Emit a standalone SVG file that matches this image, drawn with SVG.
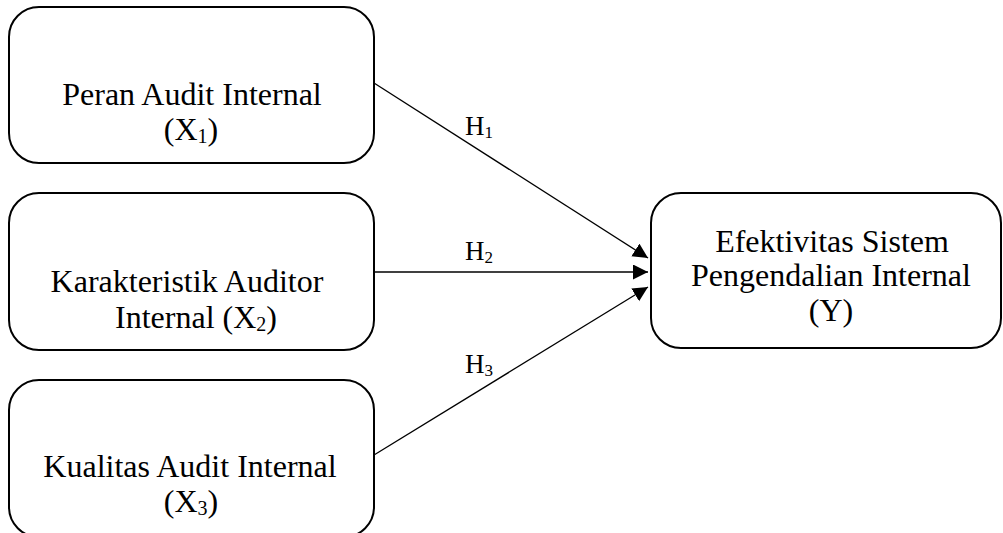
<svg xmlns="http://www.w3.org/2000/svg" width="1003" height="533" viewBox="0 0 1003 533">
  <style>
    .box { fill: #ffffff; stroke: #000000; stroke-width: 2; }
    .edge { fill: none; stroke: #000000; stroke-width: 1.3; }
    .lbl { font-family: "Liberation Serif", "Times New Roman", serif; font-size: 32px; fill: #000000; text-anchor: middle; }
    .hyp { font-family: "Liberation Serif", "Times New Roman", serif; font-size: 27px; fill: #000000; }
    .sub { font-size: 20px; }
    .hsub { font-size: 17px; }
  </style>
  <defs>
    <marker id="arrow" markerUnits="userSpaceOnUse" markerWidth="16" markerHeight="16" refX="15" refY="7.5" orient="auto">
      <path d="M0,0 L15,7.5 L0,15 Z" fill="#000000"/>
    </marker>
  </defs>
  <rect width="1003" height="533" fill="#ffffff"/>

  <!-- connectors -->
  <g id="connectors">
    <line class="edge" x1="374" y1="83" x2="648" y2="258" marker-end="url(#arrow)"/>
    <line class="edge" x1="374" y1="272" x2="648" y2="272" marker-end="url(#arrow)"/>
    <line class="edge" x1="374" y1="455" x2="648" y2="287" marker-end="url(#arrow)"/>
    <text class="hyp" x="465" y="135">H<tspan class="hsub" dy="3">1</tspan></text>
    <text class="hyp" x="465" y="260">H<tspan class="hsub" dy="3">2</tspan></text>
    <text class="hyp" x="465" y="373">H<tspan class="hsub" dy="3">3</tspan></text>
  </g>

  <g id="x1">
    <rect class="box" x="9" y="7" width="365" height="156" rx="30" ry="30"/>
    <text class="lbl" x="192" y="105">Peran Audit Internal</text>
    <text class="lbl" x="191" y="140">(X<tspan class="sub" dy="3">1</tspan><tspan dy="-3">)</tspan></text>
  </g>

  <g id="x2">
    <rect class="box" x="9" y="193" width="365" height="157" rx="30" ry="30"/>
    <text class="lbl" x="187" y="292">Karakteristik Auditor</text>
    <text class="lbl" x="196" y="328">Internal (X<tspan class="sub" dy="3">2</tspan><tspan dy="-3">)</tspan></text>
  </g>

  <g id="x3">
    <rect class="box" x="9" y="380" width="365" height="157" rx="30" ry="30"/>
    <text class="lbl" x="190" y="477">Kualitas Audit Internal</text>
    <text class="lbl" x="191" y="512">(X<tspan class="sub" dy="3">3</tspan><tspan dy="-3">)</tspan></text>
  </g>

  <g id="y">
    <rect class="box" x="651" y="193" width="350" height="155" rx="30" ry="30"/>
    <text class="lbl" x="832" y="252">Efektivitas Sistem</text>
    <text class="lbl" x="831" y="286">Pengendalian Internal</text>
    <text class="lbl" x="831" y="321">(Y)</text>
  </g>
</svg>
